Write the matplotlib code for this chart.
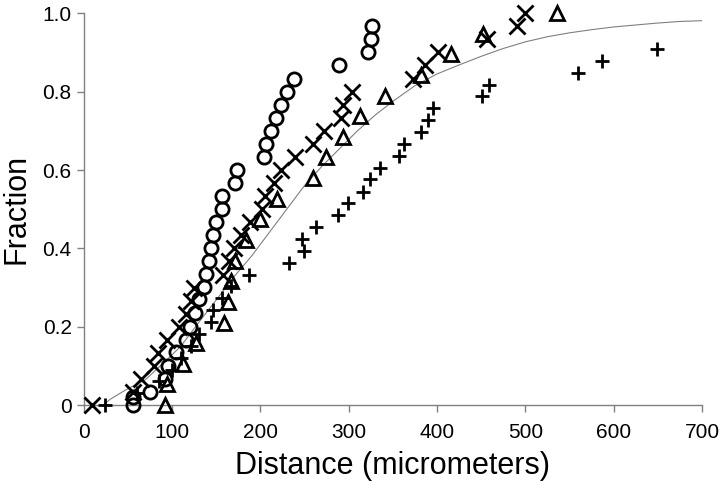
import matplotlib
matplotlib.use("Agg")
import matplotlib.pyplot as plt

plt.rcParams['font.family'] = ['Liberation Sans', 'DejaVu Sans']

# theoretical cumulative curve
curve_x = [22, 30, 50, 70, 90, 110, 130, 150, 170, 190, 210, 230, 250, 270, 290, 310,
           330, 350, 375, 400, 425, 450, 475, 500, 525, 550, 575, 600, 625, 650, 675, 700]
curve_y = [0.0, 0.015, 0.042, 0.065, 0.107, 0.150, 0.210, 0.268, 0.327, 0.380, 0.440, 0.500,
           0.560, 0.610, 0.655, 0.700, 0.740, 0.775, 0.815, 0.845, 0.868, 0.890, 0.910, 0.927,
           0.940, 0.950, 0.958, 0.965, 0.970, 0.975, 0.979, 0.981]

# open circles
circ_x = [56, 56, 75, 92, 96, 105, 116, 120, 126, 131, 136, 139, 142, 144, 146, 150, 157, 157,
          172, 174, 204, 207, 212, 218, 223, 230, 238, 289, 322, 325, 326]
circ_y = [0.0, 0.02, 0.035, 0.068, 0.1, 0.135, 0.167, 0.2, 0.235, 0.27, 0.302, 0.336, 0.368,
          0.4, 0.434, 0.467, 0.5, 0.533, 0.567, 0.6, 0.633, 0.667, 0.7, 0.733, 0.767, 0.8,
          0.833, 0.867, 0.9, 0.933, 0.967]

# x crosses
cross_x = [10, 56, 65, 80, 84, 95, 108, 116, 122, 125, 158, 165, 170, 178, 188, 202, 205, 216,
           224, 239, 260, 272, 291, 294, 304, 373, 386, 401, 457, 491, 500]
cross_y = [0.0, 0.033, 0.067, 0.1, 0.133, 0.167, 0.2, 0.233, 0.267, 0.3, 0.333, 0.367, 0.4,
           0.433, 0.467, 0.5, 0.533, 0.567, 0.6, 0.633, 0.667, 0.7, 0.733, 0.767, 0.8, 0.833,
           0.867, 0.9, 0.933, 0.967, 1.0]

# open triangles
tri_x = [92, 94, 113, 127, 159, 163, 167, 171, 184, 200, 219, 260, 275, 294, 313, 341, 382,
         416, 452, 536]
tri_y = [0.0, 0.053, 0.105, 0.158, 0.211, 0.263, 0.316, 0.368, 0.421, 0.474, 0.526, 0.579,
         0.632, 0.684, 0.737, 0.789, 0.842, 0.895, 0.947, 1.0]

# plus signs
plus_x = [24, 60, 85, 100, 110, 122, 131, 144, 146, 157, 167, 187, 233, 249, 247, 263, 288,
          299, 316, 324, 336, 357, 363, 382, 390, 395, 451, 459, 560, 587, 649]
plus_y = [0.0, 0.03, 0.061, 0.091, 0.121, 0.152, 0.182, 0.212, 0.242, 0.273, 0.303, 0.333,
          0.364, 0.394, 0.424, 0.455, 0.485, 0.515, 0.545, 0.576, 0.606, 0.636, 0.667, 0.697,
          0.727, 0.758, 0.788, 0.818, 0.848, 0.879, 0.909]

xticks = [0, 100, 200, 300, 400, 500, 600, 700]
yticks = [0, 0.2, 0.4, 0.6, 0.8, 1.0]
ytick_labels = ['0', '0.2', '0.4', '0.6', '0.8', '1.0']

fig = plt.figure(figsize=(7.2, 4.9), dpi=100)
ax = fig.add_axes([0.116, 0.173, 0.859, 0.80])

ax.plot(curve_x, curve_y, color='#808080', linewidth=0.8, zorder=1)
ax.plot(circ_x, circ_y, 'o', mfc='none', mec='black', ms=9.5, mew=2.0, zorder=3, clip_on=False)
ax.plot(cross_x, cross_y, 'x', color='black', ms=11, mew=2.0, zorder=3, clip_on=False)
ax.plot(tri_x, tri_y, '^', mfc='none', mec='black', ms=10.5, mew=2.0, zorder=3, clip_on=False)
ax.plot(plus_x, plus_y, '+', color='black', ms=10.5, mew=2.0, zorder=3, clip_on=False)

ax.set_xlim(0, 700)
ax.set_ylim(0, 1.0)
ax.set_xticks(xticks)
ax.set_yticks(yticks)
ax.set_yticklabels(ytick_labels)
for s in ['top', 'right']:
    ax.spines[s].set_visible(False)
for s in ['left', 'bottom']:
    ax.spines[s].set_color('#808080')
    ax.spines[s].set_linewidth(1.0)
ax.tick_params(axis='both', colors='#808080', labelcolor='black', labelsize=15, length=5, width=1)
ax.tick_params(axis='x', pad=8)

ax.set_xlabel('Distance (micrometers)', fontsize=22, labelpad=6)
ax.set_ylabel('Fraction', fontsize=22, labelpad=8)

fig.savefig('out.png', dpi=100)
